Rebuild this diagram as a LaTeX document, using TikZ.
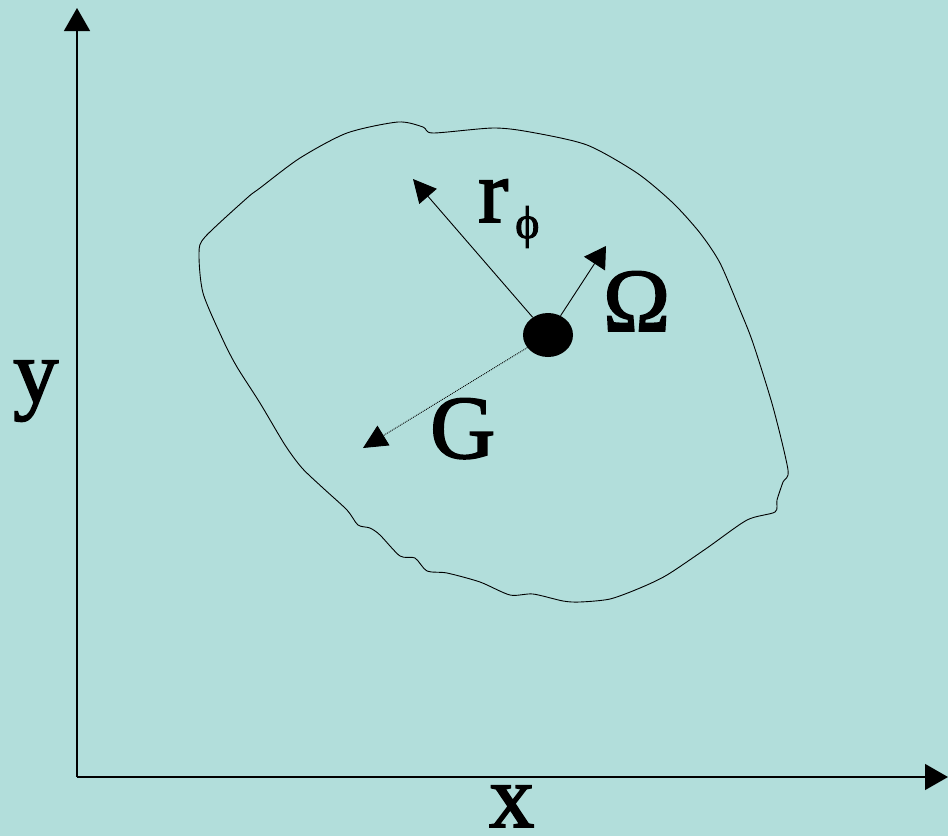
\documentclass[tikz,border=0pt]{standalone}
\usepackage{fontspec}
\setmainfont{Liberation Serif}
\newfontfamily\lblfont[FakeBold=2]{Liberation Serif}
\usetikzlibrary{arrows.meta,shapes.geometric}
\definecolor{bgteal}{RGB}{178,222,219}
\tikzset{
  axisline/.style={line width=1.3pt, -{Triangle[length=23pt,width=26pt]}},
  vecline/.style={line width=0.9pt, -{Triangle[length=23pt,width=23pt]}},
  gline/.style={line width=0.9pt, densely dotted, -{Triangle[length=24pt,width=23pt]}},
  lbl/.style={inner sep=0pt, anchor=base west, font=\lblfont\fontsize{90}{90}\selectfont},
  sublbl/.style={inner sep=0pt, anchor=base west, font=\lblfont\fontsize{46}{46}\selectfont},
  blob/.style={line width=0.9pt},
}
\begin{document}
\begin{tikzpicture}[x=1pt,y=-1pt]
\fill[bgteal] (0,0) rectangle (948,836);
\useasboundingbox (0,0) rectangle (948,836);
% axes
\coordinate (origin) at (77,777);
\coordinate (ytip) at (77,8);
\coordinate (xtip) at (948,777);
\draw[axisline] (origin) -- (ytip);
\draw[axisline] (origin) -- (xtip);
\node[lbl] (ylabel) at (13,402) {y};
\node[lbl] (xlabel) at (489,827) {x};
% body outline
\draw[blob] plot[smooth cycle, tension=0.45] coordinates {
(433,133) (493,128) (530,132) (587,145) (637,173) (673,203) (700,233)
(720,263) (740,310) (753,343) (773,407) (788,470) (783,482) (777,500)
(775,512) (747,520) (707,548) (667,575) (640,588) (610,599) (580,602)
(563,601) (533,594) (510,595) (480,582) (447,573) (427,571) (415,558)
(400,556) (380,535) (370,528) (358,525) (347,510) (323,488) (302,468)
(285,445) (260,403) (237,367) (223,340) (203,293) (199,253) (205,237)
(247,198) (260,188) (300,158) (347,133) (398,122) (423,127)};
% centre dot
\node[ellipse, fill=black, minimum width=50pt, minimum height=44pt, inner sep=0pt] (dot) at (548,335) {};
\coordinate (rtip) at (413,179);
\coordinate (otip) at (606,246);
\coordinate (gtip) at (363,448);
\draw[vecline] (dot) -- (rtip);
\draw[vecline, -{Triangle[length=21pt,width=25pt]}] (dot) -- (otip);
\draw[gline] (dot) -- (gtip);
% labels
\node[lbl] (rlabel) at (478,222) {r};
\node[sublbl] (philabel) at (515,238) {ϕ};
\node[lbl] (olabel) at (603,331) {Ω};
\node[lbl] (glabel) at (430,458) {G};
\end{tikzpicture}
\end{document}
